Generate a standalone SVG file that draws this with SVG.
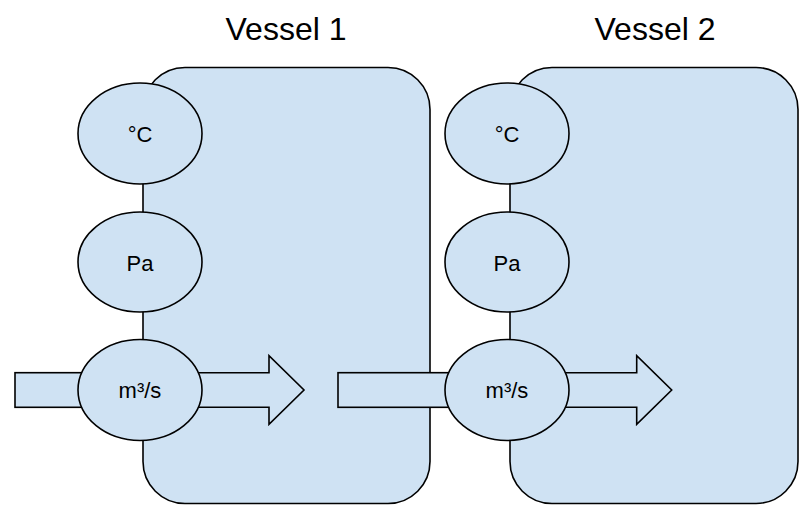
<svg xmlns="http://www.w3.org/2000/svg" width="806" height="507" viewBox="0 0 806 507">
<style>
.shape{fill:#cfe2f3;stroke:#000;stroke-width:1.6;stroke-linejoin:miter}
.title{font-family:"Liberation Sans",Arial,sans-serif;font-size:32px;fill:#000;text-anchor:middle}
.lbl{font-family:"Liberation Sans",Arial,sans-serif;font-size:22px;fill:#000;text-anchor:middle}
</style>
<rect x="0" y="0" width="806" height="507" fill="#fff"/>
<g id="vessel1">
<rect class="shape" x="143" y="67.5" width="287" height="436" rx="42" ry="42"/>
<text class="title" x="286" y="40">Vessel 1</text>
</g>
<g id="vessel2">
<rect class="shape" x="510" y="67.5" width="288" height="436" rx="42" ry="42"/>
<text class="title" x="655" y="40">Vessel 2</text>
</g>
<g id="connectors">
<rect id="inflow1" class="shape" x="15" y="372.7" width="125" height="34.6"/>
<path id="outflow1" class="shape" d="M140,372.7 H269 V355.7 L304,390 L269,424.3 V407.3 H140 Z"/>
<rect id="inflow2" class="shape" x="338" y="372.7" width="170" height="34.6"/>
<path id="outflow2" class="shape" d="M507,372.7 H636.7 V355.7 L671.7,390 L636.7,424.3 V407.3 H507 Z"/>
</g>
<g id="temp1">
<ellipse class="shape" cx="140" cy="133.5" rx="62" ry="50.5"/>
<text class="lbl" x="140" y="142">°C</text>
</g>
<g id="pressure1">
<ellipse class="shape" cx="140" cy="262" rx="62" ry="50"/>
<text class="lbl" x="140" y="271">Pa</text>
</g>
<g id="flow1">
<ellipse class="shape" cx="140" cy="390" rx="62" ry="50.5"/>
<text class="lbl" x="140" y="398">m³/s</text>
</g>
<g id="temp2">
<ellipse class="shape" cx="507" cy="133.5" rx="62" ry="50.5"/>
<text class="lbl" x="507" y="142">°C</text>
</g>
<g id="pressure2">
<ellipse class="shape" cx="507" cy="262" rx="62" ry="50"/>
<text class="lbl" x="507" y="271">Pa</text>
</g>
<g id="flow2">
<ellipse class="shape" cx="507" cy="390" rx="62" ry="50.5"/>
<text class="lbl" x="507" y="398">m³/s</text>
</g>
</svg>
